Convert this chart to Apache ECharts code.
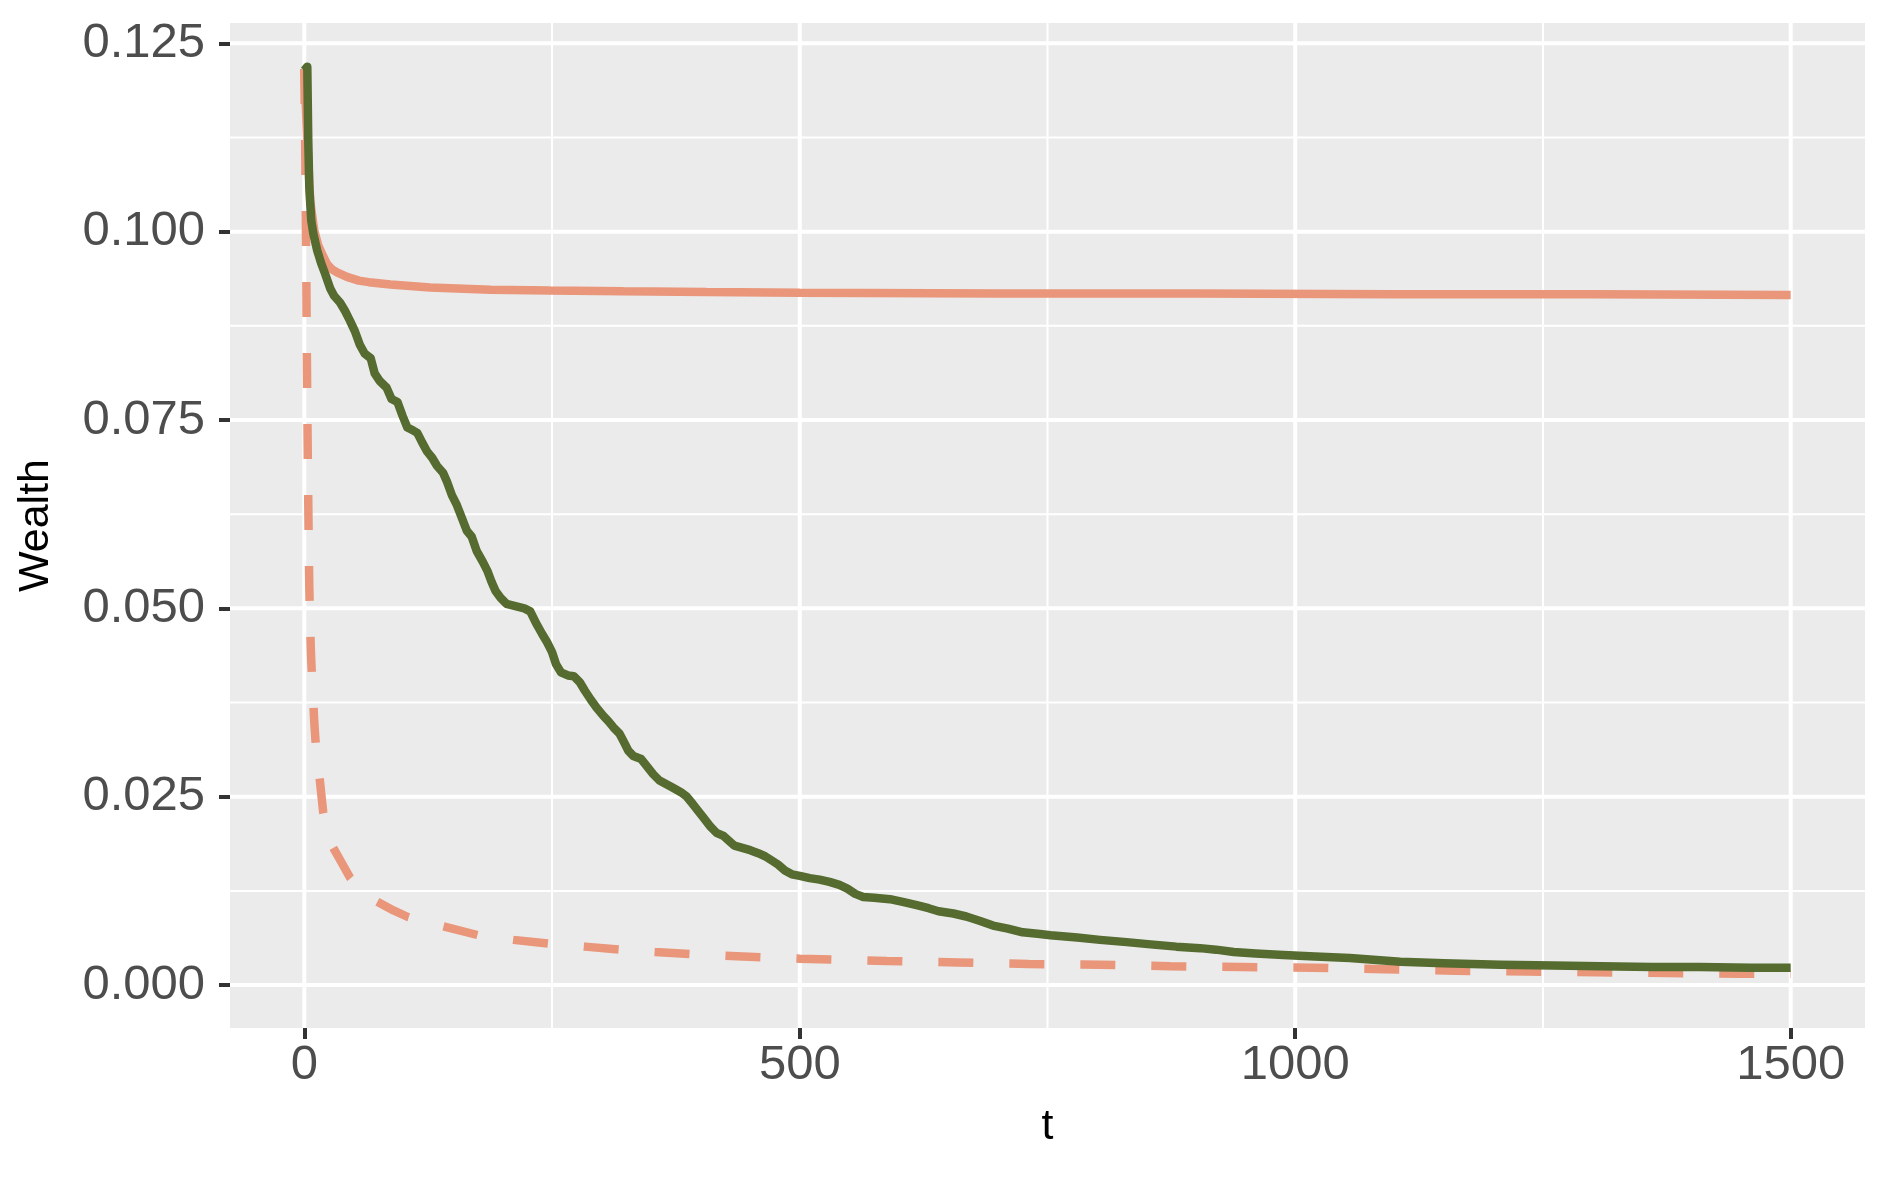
<!DOCTYPE html>
<html>
<head>
<meta charset="utf-8">
<title>Wealth</title>
<script src="https://cdn.jsdelivr.net/npm/echarts@6/dist/echarts.min.js"></script>
<style>
    html, body {margin: 0; padding: 0; background: #fff;}
    #main {width: 1888px; height: 1179px;}
</style>
</head>
<body>
<div id="main"></div>
<script>
// 绿色实线
let greenT = [0, 3, 4, 5, 7, 9, 13, 17, 21, 26, 30, 36, 41, 46, 51, 56, 61, 67, 71, 76, 83, 88, 94, 99, 104, 110, 114, 119, 124, 129, 134, 140, 144, 149, 154, 159, 164, 169, 174, 180, 185, 189, 193, 198, 204, 210, 216, 222, 228, 234, 240, 245, 250, 254, 259, 266, 272, 278, 283, 289, 295, 302, 307, 312, 318, 322, 327, 332, 340, 346, 352, 358, 365, 372, 380, 386, 391, 397, 403, 410, 416, 423, 428, 434, 442, 450, 458, 465, 471, 478, 485, 492, 500, 510, 520, 530, 540, 548, 556, 564, 575, 591, 605, 618, 630, 640, 655, 668, 682, 695, 710, 725, 740, 753, 780, 803, 830, 854, 880, 904, 920, 938, 960, 988, 1020, 1055, 1106, 1150, 1207, 1260, 1308, 1360, 1408, 1460, 1500];
let greenW = [0.1214, 0.1219, 0.1120, 0.1060, 0.1015, 0.0998, 0.0975, 0.0958, 0.0944, 0.0925, 0.0915, 0.0906, 0.0895, 0.0882, 0.0868, 0.0850, 0.0838, 0.0832, 0.0812, 0.0802, 0.0793, 0.0778, 0.0774, 0.0756, 0.0740, 0.0736, 0.0733, 0.0720, 0.0708, 0.0700, 0.0689, 0.0680, 0.0668, 0.0650, 0.0637, 0.0620, 0.0603, 0.0595, 0.0576, 0.0562, 0.0549, 0.0535, 0.0523, 0.0514, 0.0506, 0.0504, 0.0502, 0.0500, 0.0496, 0.0480, 0.0466, 0.0455, 0.0442, 0.0426, 0.0415, 0.0411, 0.0410, 0.0402, 0.0391, 0.0379, 0.0368, 0.0357, 0.0350, 0.0342, 0.0334, 0.0324, 0.0311, 0.0304, 0.0300, 0.0290, 0.0280, 0.0272, 0.0267, 0.0262, 0.0256, 0.0250, 0.0242, 0.0232, 0.0222, 0.0210, 0.0202, 0.0198, 0.0192, 0.0185, 0.0182, 0.0179, 0.0175, 0.0171, 0.0166, 0.0160, 0.0152, 0.0147, 0.0145, 0.0142, 0.0140, 0.0137, 0.0133, 0.0128, 0.0121, 0.0117, 0.0116, 0.0114, 0.0110, 0.0106, 0.0102, 0.0098, 0.0095, 0.0091, 0.0085, 0.0079, 0.0075, 0.0070, 0.0068, 0.0066, 0.0063, 0.0060, 0.0057, 0.0054, 0.0051, 0.0049, 0.0047, 0.0044, 0.0042, 0.0040, 0.0038, 0.0036, 0.0031, 0.0029, 0.0027, 0.0026, 0.0025, 0.0024, 0.0024, 0.0023, 0.0023];
// 橙色实线
let solidT = [0, 3, 6, 10, 14, 18, 23, 28, 33, 43, 55, 65, 87, 127, 188, 248, 322, 406, 500, 700, 900, 1100, 1300, 1500];
let solidW = [0.1216, 0.1120, 0.1040, 0.1002, 0.0982, 0.0970, 0.0957, 0.0950, 0.0946, 0.0940, 0.0935, 0.0933, 0.0930, 0.0926, 0.0923, 0.0922, 0.0921, 0.0920, 0.0919, 0.0918, 0.0918, 0.0917, 0.0917, 0.0916];
// 橙色虚线
let dashT = [0, 1, 2, 2.5, 3, 3.5, 4, 4.5, 5, 6, 7, 8.5, 10, 12, 15, 19, 23, 28, 37, 46, 60, 73, 90, 105, 125, 140, 176, 211, 246, 283, 319, 354, 420, 500, 588, 660, 731, 803, 874, 946, 1017, 1090, 1162, 1234, 1305, 1377, 1449, 1500];
let dashW = [0.1216, 0.1100, 0.0950, 0.0850, 0.0770, 0.0700, 0.0640, 0.0580, 0.0530, 0.0470, 0.0430, 0.0390, 0.0350, 0.0310, 0.0280, 0.0230, 0.0205, 0.0185, 0.0164, 0.0143, 0.0122, 0.0111, 0.0099, 0.0090, 0.0082, 0.0078, 0.0066, 0.0060, 0.0055, 0.0051, 0.0047, 0.0044, 0.0039, 0.0035, 0.0032, 0.0030, 0.0028, 0.0027, 0.0025, 0.0024, 0.0023, 0.0021, 0.0019, 0.0018, 0.0017, 0.0016, 0.0015, 0.0015];

// 坐标范围和刻度
let xRange = [-75, 1575];
let yRange = [-0.0057, 0.1277];
let xTicks = [0, 500, 1000, 1500];
let xMinor = [250, 750, 1250];
let yTicks = [0, 0.025, 0.05, 0.075, 0.1, 0.125];
let yMinor = [0.0125, 0.0375, 0.0625, 0.0875, 0.1125];

function pairs(t, w) {
    let out = [];
    for (let i = 0; i < t.length; i++) {
        out.push([t[i], w[i]]);
    }
    return out;
}

// 网格线：每条线一个系列，放在数据线下面
function gridSeries(vals, isX, width) {
    return vals.map(v => ({
        type: 'line',
        silent: true,
        showSymbol: false,
        z: 1,
        data: isX ? [[v, yRange[0]], [v, yRange[1]]] : [[xRange[0], v], [xRange[1], v]],
        lineStyle: {color: '#FFFFFF', width: width}
    }));
}

let font = 'Liberation Sans';
let myChart = echarts.init(document.getElementById('main'));
let series = [].concat(
    gridSeries(xMinor, true, 2),
    gridSeries(yMinor, false, 2),
    gridSeries(xTicks, true, 4),
    gridSeries(yTicks, false, 4),
    [
        {
            name: 'dashed',
            type: 'line',
            data: pairs(dashT, dashW),
            showSymbol: false,
            z: 2,
            lineStyle: {color: '#E9967A', width: 8.5, type: [35, 36], cap: 'butt'}
        },
        {
            name: 'solid',
            type: 'line',
            data: pairs(solidT, solidW),
            showSymbol: false,
            z: 3,
            lineStyle: {color: '#E9967A', width: 8.5}
        },
        {
            name: 'green',
            type: 'line',
            data: pairs(greenT, greenW),
            showSymbol: false,
            z: 4,
            lineStyle: {color: '#556B2F', width: 8.5, join: 'round'}
        }
    ]
);

let option = {
    animation: false,
    grid: {
        left: 230, right: 23, top: 23, bottom: 151,
        show: true, backgroundColor: '#EBEBEB', borderWidth: 0
    },
    xAxis: {
        type: 'value',
        min: xRange[0], max: xRange[1],
        name: 't',
        nameLocation: 'middle',
        nameGap: 78,
        nameTextStyle: {fontSize: 43, color: '#000', fontFamily: font},
        axisLine: {show: false, onZero: false},
        splitLine: {show: false},
        axisTick: {customValues: xTicks, length: 11, lineStyle: {color: '#333333', width: 4}},
        axisLabel: {customValues: xTicks, fontSize: 49, color: '#4D4D4D', fontFamily: font, margin: 13,
            formatter: v => String(v)}
    },
    yAxis: {
        type: 'value',
        min: yRange[0], max: yRange[1],
        name: 'Wealth',
        nameLocation: 'middle',
        nameGap: 172,
        nameRotate: 90,
        nameTextStyle: {fontSize: 43, color: '#000', fontFamily: font},
        axisLine: {show: false, onZero: false},
        splitLine: {show: false},
        axisTick: {customValues: yTicks, length: 11, lineStyle: {color: '#333333', width: 4}},
        axisLabel: {customValues: yTicks, fontSize: 49, color: '#4D4D4D', fontFamily: font, margin: 25,
            formatter: v => v.toFixed(3)}
    },
    series: series
};
myChart.setOption(option);
</script>
</body>
</html>
